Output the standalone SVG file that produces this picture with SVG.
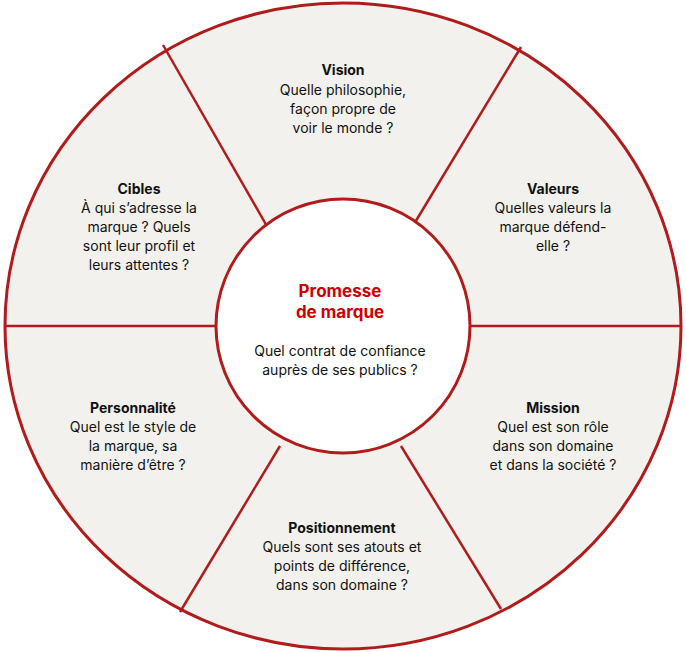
<svg xmlns="http://www.w3.org/2000/svg" width="686" height="652" viewBox="0 0 686 652">
<style>
text{font-family:Inter,"Liberation Sans",sans-serif;font-size:14px;fill:#111;text-anchor:middle}
.b{font-weight:bold}
.r{fill:#c00;font-size:17px;font-weight:bold}
.s{stroke:#b01c1c;stroke-width:2.5;fill:none}
</style>
<rect width="686" height="652" fill="#fff"/>
<ellipse cx="343" cy="326" rx="338" ry="323" fill="#f2f1ee" stroke="#b01c1c" stroke-width="3"/>
<g id="connectors" class="s">
<line x1="5" y1="326" x2="216" y2="326"/>
<line x1="470" y1="326" x2="681" y2="326"/>
<line x1="163" y1="45" x2="268" y2="228"/>
<line x1="521" y1="47" x2="411" y2="229"/>
<line x1="280" y1="446" x2="180" y2="612"/>
<line x1="401" y1="446" x2="501" y2="609"/>
</g>
<g id="vision"><text x="343" y="75" class="b">Vision</text><text x="343" y="95">Quelle philosophie,</text><text x="343" y="114">façon propre de</text><text x="343" y="133">voir le monde ?</text></g>
<g id="valeurs"><text x="553" y="194" class="b">Valeurs</text><text x="553" y="213">Quelles valeurs la</text><text x="553" y="232">marque défend-</text><text x="553" y="251">elle ?</text></g>
<g id="cibles"><text x="139" y="194" class="b">Cibles</text><text x="139" y="213">À qui s’adresse la</text><text x="139" y="232">marque ? Quels</text><text x="139" y="251">sont leur profil et</text><text x="139" y="270">leurs attentes ?</text></g>
<g id="personnalite"><text x="133" y="413" class="b">Personnalité</text><text x="133" y="432">Quel est le style de</text><text x="133" y="451">la marque, sa</text><text x="133" y="470">manière d’être ?</text></g>
<g id="mission"><text x="553" y="413" class="b">Mission</text><text x="553" y="432">Quel est son rôle</text><text x="553" y="451">dans son domaine</text><text x="553" y="470">et dans la société ?</text></g>
<g id="positionnement"><text x="342" y="533" class="b">Positionnement</text><text x="342" y="552">Quels sont ses atouts et</text><text x="342" y="571">points de différence,</text><text x="342" y="590">dans son domaine ?</text></g>
<g id="promesse">
<circle cx="343" cy="326" r="127" fill="#fff" stroke="#b01c1c" stroke-width="3"/>
<text x="340" y="297" class="r">Promesse</text><text x="340" y="318" class="r">de marque</text>
<text x="340" y="356">Quel contrat de confiance</text><text x="340" y="375">auprès de ses publics ?</text>
</g>
</svg>
